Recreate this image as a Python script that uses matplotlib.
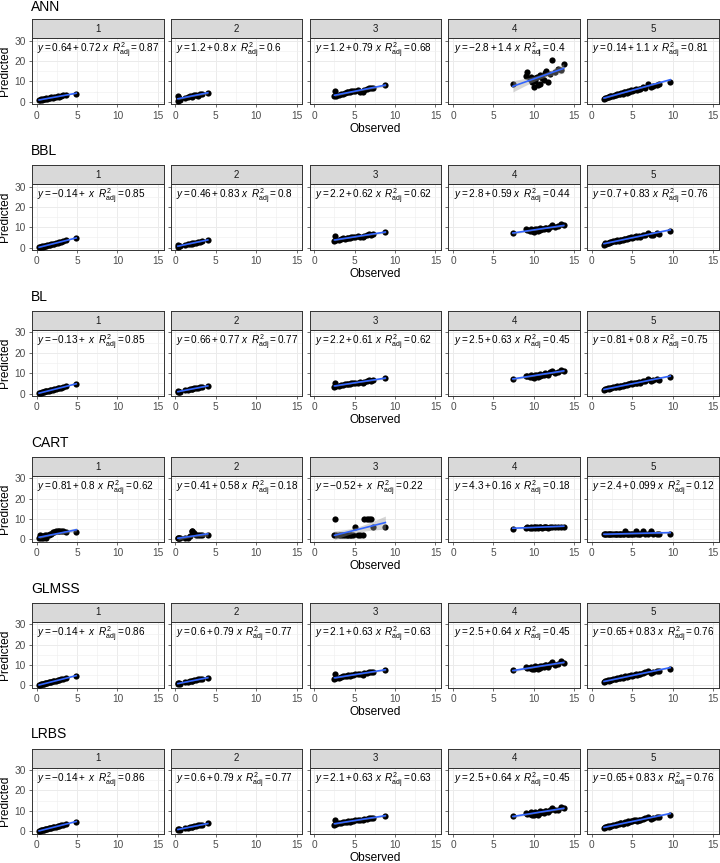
import numpy as np
import matplotlib
matplotlib.use("Agg")
import matplotlib.pyplot as plt

plt.rcParams['font.family'] = ['Liberation Sans', 'DejaVu Sans']
plt.rcParams['mathtext.fontset'] = 'custom'
plt.rcParams['mathtext.rm'] = 'Liberation Sans'
plt.rcParams['mathtext.it'] = 'Liberation Sans:italic'
plt.rcParams['mathtext.bf'] = 'Liberation Sans:bold'

# observed values, one list per group (shared by all models)
obs_1 = [0.3, 0.4, 0.5, 0.6, 0.8, 0.9, 1.0, 1.2, 1.3, 1.5, 1.7, 1.8, 2.0, 2.2, 2.4, 2.6, 2.8, 3.0, 3.3, 3.6, 4.9]
obs_2 = [0.3, 0.35, 0.4, 0.5, 1.2, 1.5, 1.8, 2.0, 2.1, 2.3, 2.5, 2.8, 3.0, 3.3, 4.0]
obs_3 = [2.5, 2.6, 2.7, 3.0, 3.3, 3.5, 3.8, 4.0, 4.2, 4.4, 4.6, 4.8, 5.0, 5.4, 5.7, 6.0, 6.2, 6.5, 6.8, 7.0, 7.3, 8.8]
obs_4 = [7.4, 9.0, 9.2, 9.5, 9.7, 9.8, 10.0, 10.1, 10.2, 10.4, 10.5, 10.7, 10.8, 11.0, 11.2, 11.4, 11.5, 11.8,
         12.0, 12.3, 12.6, 13.0, 13.4, 13.7]
obs_5 = [1.5, 1.6, 1.8, 2.0, 2.1, 2.3, 2.4, 2.6, 2.8, 3.0, 3.1, 3.3, 3.5, 3.6, 3.8, 4.0, 4.1, 4.3, 4.5, 4.6,
         4.8, 5.0, 5.2, 5.4, 5.6, 5.8, 6.0, 6.3, 6.6, 7.0, 7.3, 7.6, 8.0, 8.3, 9.7]

# predicted values per model, one list per group
ann = [
    [1.0, 0.8, 1.2, 0.9, 1.3, 1.4, 1.2, 1.6, 1.5, 1.8, 1.9, 2.1, 2.0, 2.3, 2.2, 2.6, 2.5, 2.9, 3.1, 3.3, 4.0],
    [2.8, 0.5, 1.6, 1.0, 2.0, 2.3, 2.6, 2.9, 2.5, 3.1, 3.4, 3.0, 3.6, 3.9, 4.3],
    [2.6, 5.5, 3.0, 3.5, 3.9, 4.0, 4.3, 4.6, 5.0, 4.6, 5.3, 5.1, 5.4, 5.6, 5.0, 4.8, 5.6, 6.3, 6.8, 6.5, 6.9, 8.2],
    [8.6, 12.5, 14.8, 11.0, 12.0, 9.5, 7.4, 11.5, 10.0, 12.3, 8.0, 13.0, 8.6, 11.8, 10.7, 14.0, 15.1, 9.8,
     13.5, 20.5, 14.8, 16.0, 15.6, 18.4],
    [1.2, 2.0, 1.6, 2.5, 2.3, 2.9, 2.6, 3.0, 3.4, 3.2, 3.8, 3.6, 4.0, 4.3, 4.0, 4.6, 4.8, 4.5, 5.2, 5.0,
     5.6, 5.3, 5.9, 6.0, 5.8, 6.4, 6.1, 7.0, 6.8, 8.6, 7.2, 7.8, 8.1, 8.5, 9.5],
]
bbl = [
    [0.1, 0.4, 0.3, 0.6, 0.5, 0.8, 1.0, 1.0, 1.3, 1.3, 1.5, 1.8, 1.8, 2.0, 2.3, 2.4, 2.7, 2.8, 3.1, 3.5, 4.6],
    [1.2, 0.4, 0.8, 0.6, 1.4, 1.6, 1.9, 2.2, 2.0, 2.4, 2.5, 2.8, 2.9, 3.2, 3.7],
    [3.0, 5.6, 3.6, 3.8, 4.0, 4.5, 4.4, 4.8, 4.9, 4.6, 5.2, 5.0, 5.4, 5.5, 5.4, 5.3, 5.9, 6.1, 6.5, 6.3, 6.6, 7.6],
    [7.2, 9.0, 8.5, 8.4, 9.2, 8.0, 7.8, 9.3, 8.6, 9.0, 8.2, 9.5, 8.7, 9.3, 9.0, 9.8, 9.6, 9.2,
     10.3, 11.0, 10.2, 10.4, 11.4, 11.0],
    [1.5, 2.3, 2.0, 2.5, 2.2, 2.8, 2.6, 3.0, 3.2, 3.0, 3.5, 3.3, 3.8, 3.9, 3.6, 4.2, 4.4, 4.0, 4.8, 4.5,
     5.0, 4.7, 5.3, 5.5, 5.1, 5.6, 5.3, 6.0, 6.4, 7.0, 6.0, 6.4, 7.2, 6.9, 8.0],
]
bl = [
    [0.2, 0.3, 0.4, 0.5, 0.6, 0.8, 1.0, 1.1, 1.2, 1.4, 1.5, 1.8, 1.9, 2.0, 2.3, 2.5, 2.6, 2.9, 3.1, 3.5, 4.6],
    [1.3, 0.6, 0.9, 0.8, 1.5, 1.8, 2.0, 2.2, 2.1, 2.5, 2.6, 2.8, 3.0, 3.2, 3.8],
    [3.1, 5.4, 3.7, 3.8, 4.1, 4.4, 4.5, 4.7, 4.9, 4.7, 5.1, 5.0, 5.4, 5.4, 5.5, 5.3, 5.8, 6.0, 6.4, 6.3, 6.6, 7.5],
    [7.2, 8.8, 8.4, 8.3, 9.1, 7.9, 7.8, 9.2, 8.5, 9.0, 8.1, 9.6, 8.6, 9.3, 9.0, 9.9, 9.7, 9.1,
     10.4, 11.2, 10.1, 10.5, 11.6, 11.1],
    [1.6, 2.4, 2.1, 2.6, 2.3, 2.9, 2.7, 3.0, 3.3, 3.1, 3.5, 3.4, 3.8, 3.9, 3.7, 4.2, 4.4, 4.1, 4.7, 4.6,
     5.0, 4.8, 5.3, 5.4, 5.2, 5.6, 5.4, 6.0, 6.3, 6.9, 6.0, 6.4, 7.1, 6.8, 7.9],
]
cart = [
    [0.8, 2.3, 0.8, 1.5, 0.8, 1.5, 2.3, 0.6, 2.3, 2.3, 2.7, 2.7, 3.4, 3.4, 3.9, 3.9, 3.9, 3.9, 3.9, 3.4, 3.7],
    [0.6, 0.6, 0.6, 0.6, 0.6, 0.6, 1.5, 3.9, 3.9, 3.2, 2.0, 2.0, 2.0, 2.0, 2.2],
    [2.3, 9.8, 2.3, 2.3, 2.3, 2.3, 2.3, 2.3, 2.3, 2.3, 2.3, 2.3, 6.0, 2.3, 2.3, 2.3, 10.0, 10.0, 10.0, 10.0, 6.0, 6.0],
    [5.2, 5.8, 6.2, 5.8, 6.2, 5.8, 6.2, 5.8, 6.2, 6.2, 5.8, 6.2, 6.2, 5.8, 6.2, 6.2, 6.2, 5.8,
     6.2, 6.2, 6.2, 6.2, 6.2, 6.2],
    [2.5, 2.5, 2.5, 2.5, 2.5, 2.5, 2.5, 2.5, 2.5, 2.5, 2.5, 2.5, 2.5, 2.5, 2.5, 2.5, 4.3, 2.5, 2.5, 2.5,
     2.5, 2.5, 2.5, 4.3, 2.5, 2.5, 2.5, 4.3, 2.5, 2.5, 4.3, 2.5, 2.5, 2.5, 2.5],
]
glmss = [
    [0.1, 0.3, 0.4, 0.5, 0.6, 0.8, 0.9, 1.1, 1.2, 1.4, 1.6, 1.7, 1.9, 2.0, 2.3, 2.4, 2.7, 2.9, 3.2, 3.5, 4.7],
    [1.3, 0.5, 0.9, 0.8, 1.4, 1.8, 2.0, 2.2, 2.1, 2.5, 2.6, 2.9, 3.0, 3.2, 3.8],
    [3.0, 5.5, 3.6, 3.8, 4.1, 4.4, 4.5, 4.7, 4.9, 4.7, 5.1, 5.0, 5.4, 5.4, 5.5, 5.3, 5.8, 6.0, 6.4, 6.3, 6.6, 7.6],
    [7.3, 8.9, 8.4, 8.3, 9.2, 8.0, 7.8, 9.3, 8.6, 9.1, 8.2, 9.7, 8.7, 9.4, 9.1, 10.0, 9.8, 9.2,
     10.5, 11.4, 10.2, 10.6, 11.8, 11.2],
    [1.5, 2.3, 2.0, 2.5, 2.2, 2.8, 2.6, 3.0, 3.2, 3.0, 3.5, 3.4, 3.8, 3.9, 3.6, 4.2, 4.4, 4.1, 4.8, 4.5,
     5.0, 4.8, 5.3, 5.5, 5.1, 5.6, 5.4, 6.0, 6.4, 7.0, 6.1, 6.5, 7.2, 6.9, 8.0],
]
lrbs = glmss

# fitted equations as printed in each panel
ann_int = ["0.64", "1.2", "1.2", "-2.8", "0.14"]
ann_slope = ["0.72", "0.8", "0.79", "1.4", "1.1"]
ann_r2 = ["0.87", "0.6", "0.68", "0.4", "0.81"]
bbl_int = ["-0.14", "0.46", "2.2", "2.8", "0.7"]
bbl_slope = ["", "0.83", "0.62", "0.59", "0.83"]
bbl_r2 = ["0.85", "0.8", "0.62", "0.44", "0.76"]
bl_int = ["-0.13", "0.66", "2.2", "2.5", "0.81"]
bl_slope = ["", "0.77", "0.61", "0.63", "0.8"]
bl_r2 = ["0.85", "0.77", "0.62", "0.45", "0.75"]
cart_int = ["0.81", "0.41", "-0.52", "4.3", "2.4"]
cart_slope = ["0.8", "0.58", "", "0.16", "0.099"]
cart_r2 = ["0.62", "0.18", "0.22", "0.18", "0.12"]
glmss_int = ["-0.14", "0.6", "2.1", "2.5", "0.65"]
glmss_slope = ["", "0.79", "0.63", "0.64", "0.83"]
glmss_r2 = ["0.86", "0.77", "0.63", "0.45", "0.76"]

models = ["ANN", "BBL", "BL", "CART", "GLMSS", "LRBS"]
groups = ["1", "2", "3", "4", "5"]
observed = [obs_1, obs_2, obs_3, obs_4, obs_5]
predicted = [ann, bbl, bl, cart, glmss, lrbs]
intercepts = [ann_int, bbl_int, bl_int, cart_int, glmss_int, glmss_int]
slopes = [ann_slope, bbl_slope, bl_slope, cart_slope, glmss_slope, glmss_slope]
r2s = [ann_r2, bbl_r2, bl_r2, cart_r2, glmss_r2, glmss_r2]

W, H = 720, 863
fig = plt.figure(figsize=(W / 100, H / 100), dpi=100)

def box(x, y, w, h):
    # pixel box (top-left origin) to figure fraction
    return [x / W, 1 - (y + h) / H, w / W, h / H]

panel_left = 32
panel_pitch = 138.8
panel_w = 131.5
panel_h = 65.8
strip_h = 18.8
block_pitch = 145.9
grey = "#4D4D4D"

for i, model in enumerate(models):
    bottom = 104 + block_pitch * i
    top = bottom - panel_h
    title_y = max(top - strip_h - 14.5, 7)
    fig.text(31 / W, 1 - title_y / H, model, fontsize=10, va="center", ha="left")
    fig.text(5.5 / W, 1 - (top + panel_h / 2) / H, "Predicted", fontsize=8.6, rotation=90,
             va="center", ha="center")
    fig.text((panel_left + 2 * panel_pitch + panel_w / 2) / W, 1 - (bottom + 24.5) / H, "Observed",
             fontsize=8.6, va="center", ha="center")
    for j, g in enumerate(groups):
        left = panel_left + panel_pitch * j
        ax = fig.add_axes(box(left, top, panel_w, panel_h))
        sx = fig.add_axes(box(left, top - strip_h, panel_w, strip_h))
        sx.set_facecolor("#D9D9D9")
        sx.set_xticks([])
        sx.set_yticks([])
        for s in sx.spines.values():
            s.set_color("#333333")
            s.set_linewidth(0.7)
        sx.text(0.5, 0.5, g, transform=sx.transAxes, ha="center", va="center", fontsize=7, color="#1A1A1A")

        x = np.array(observed[j])
        y = np.array(predicted[i][j])
        a = float(intercepts[i][j])
        b = float(slopes[i][j] or 1)

        ax.set_xlim(-0.58, 15.7)
        ax.set_ylim(-1.13, 31.2)
        ax.set_xticks([0, 5, 10, 15])
        ax.set_yticks([0, 10, 20, 30])
        ax.set_xticks([2.5, 7.5, 12.5], minor=True)
        ax.set_yticks([5, 15, 25], minor=True)
        ax.grid(which="major", color="#EBEBEB", lw=0.7)
        ax.grid(which="minor", color="#F0F0F0", lw=0.45)
        ax.set_axisbelow(True)
        ax.tick_params(which="major", length=2.2, width=0.5, color="#333333", labelsize=7.3,
                       labelcolor=grey, pad=2.5)
        ax.tick_params(which="minor", length=0)
        if j > 0:
            ax.set_yticklabels([])
        for s in ax.spines.values():
            s.set_color("#333333")
            s.set_linewidth(0.7)

        ax.scatter(x, y, s=20, color="black", lw=0, zorder=3)

        # regression line with 95% band
        xs = np.linspace(x.min(), x.max(), 80)
        fit = a + b * xs
        n = len(x)
        resid = y - (a + b * x)
        s_err = np.sqrt(np.sum(resid ** 2) / (n - 2))
        sxx = np.sum((x - x.mean()) ** 2)
        se = s_err * np.sqrt(1 / n + (xs - x.mean()) ** 2 / sxx)
        ax.fill_between(xs, fit - 2.05 * se, fit + 2.05 * se, color="#999999", alpha=0.4, lw=0, zorder=4)
        ax.plot(xs, fit, color="#3366FF", lw=1.2, zorder=5)

        label = (r"$y = %s + %s\ x\;\;R^2_{\mathrm{adj}} = %s$"
                 % (intercepts[i][j], slopes[i][j], r2s[i][j]))
        ax.text(0.04, 0.81, label, transform=ax.transAxes, fontsize=7.2, va="center", ha="left")

fig.savefig("out.png", dpi=100)
